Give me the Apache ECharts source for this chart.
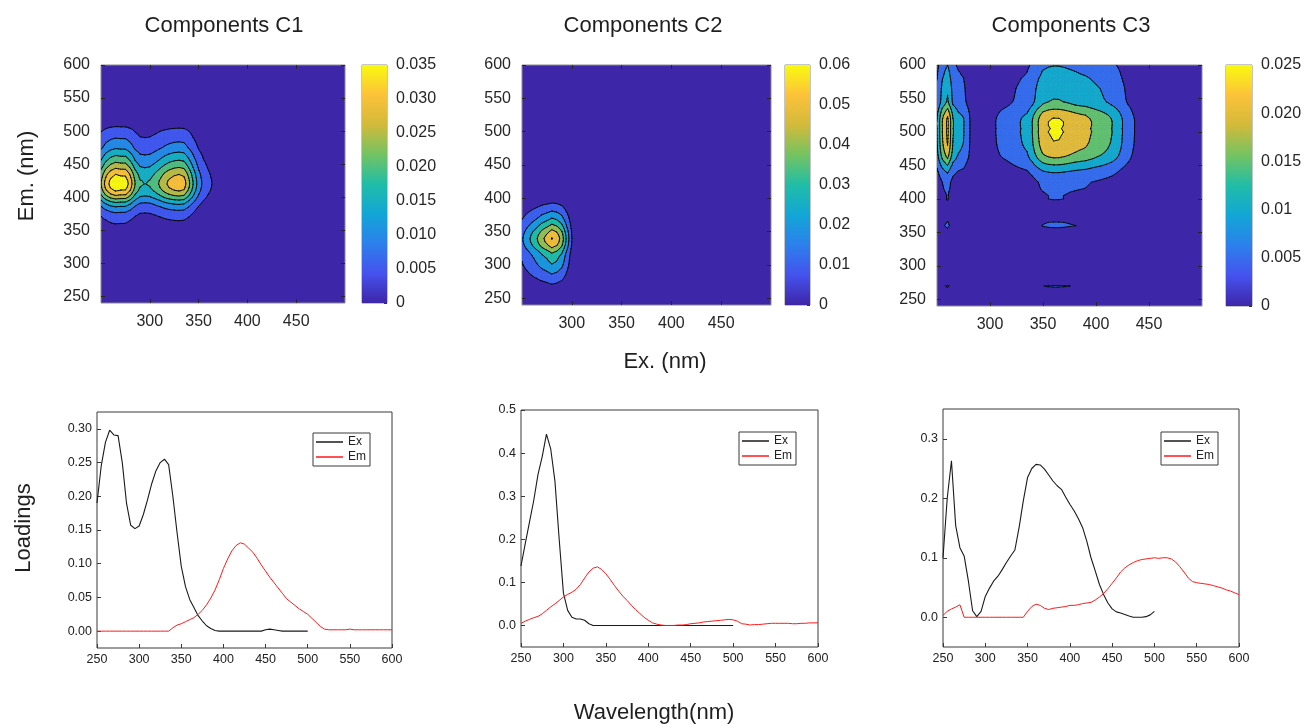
<!DOCTYPE html>
<html>
<head>
<meta charset="utf-8">
<title>PARAFAC components</title>
<script src="https://cdn.jsdelivr.net/npm/echarts@6/dist/echarts.min.js"></script>
<style>
  html, body { margin: 0; padding: 0; background: #ffffff; }
  #chart { width: 1305px; height: 724px; }
</style>
</head>
<body>
<div id="chart"></div>
<script>
// Wavelength sampling (nm)
const exWavelengths = [250,255,260,265,270,275,280,285,290,295,300,305,310,315,320,325,330,335,340,345,
  350,355,360,365,370,375,380,385,390,395,400,405,410,415,420,425,430,435,440,445,
  450,455,460,465,470,475,480,485,490,495,500];
const emWavelengths = [250,255,260,265,270,275,280,285,290,295,300,305,310,315,320,325,330,335,340,345,
  350,355,360,365,370,375,380,385,390,395,400,405,410,415,420,425,430,435,440,445,
  450,455,460,465,470,475,480,485,490,495,500,505,510,515,520,525,530,535,540,545,
  550,555,560,565,570,575,580,585,590,595,600];

// Component C1 loadings
const exC1 = [0.19,0.245,0.28,0.298,0.291,0.29,0.25,0.19,0.157,0.152,
  0.156,0.173,0.195,0.219,0.238,0.25,0.255,0.247,0.2,0.146,
  0.096,0.066,0.047,0.035,0.023,0.015,0.008,0.004,0.001,0,
  0,0,0,0,0,0,0,0,0,0,
  0.002,0.003,0.002,0.001,0,0,0,0,0,0,
  0];
const emC1 = [0,0,0,0,0,0,0,0,0,0,0,0,0,0,0,0,0,0,
  0.005,0.009,0.011,0.014,0.017,0.02,0.025,0.031,0.039,0.049,
  0.061,0.076,0.093,0.107,0.119,0.127,0.131,0.129,0.123,0.117,
  0.108,0.098,0.089,0.08,0.072,0.064,0.056,0.048,0.043,0.038,
  0.033,0.029,0.025,0.019,0.013,0.007,0.003,0.002,0.002,0.002,
  0.002,0.002,0.003,0.002,0.002,0.002,0.002,0.002,0.002,0.002,0.002,0.002,0.002];

// Component C2 loadings
const exC2 = [0.138,0.19,0.24,0.29,0.35,0.392,0.444,0.41,0.335,0.2,
  0.075,0.035,0.019,0.015,0.015,0.012,0.004,0,0,0,
  0,0,0,0,0,0,0,0,0,0,
  0,0,0,0,0,0,0,0,0,0,
  0,0,0,0,0,0,0,0,0,0,
  0];
const emC2 = [0.005,0.01,0.014,0.018,0.021,0.027,0.035,0.043,0.05,0.058,
  0.066,0.072,0.077,0.084,0.095,0.11,0.124,0.133,0.136,0.13,
  0.12,0.107,0.093,0.08,0.068,0.058,0.047,0.037,0.028,0.019,
  0.012,0.006,0.003,0.001,0,0,0,0.001,0.001,0.002,
  0.004,0.005,0.006,0.008,0.009,0.01,0.011,0.012,0.013,0.014,
  0.013,0.01,0.004,0.003,0.001,0.002,0.002,0.003,0.004,0.005,
  0.005,0.005,0.005,0.005,0.004,0.004,0.005,0.005,0.006,0.006,0.006];

// Component C3 loadings
const exC3 = [0.1,0.2,0.263,0.154,0.117,0.103,0.061,0.011,0.001,0.01,
  0.035,0.049,0.061,0.069,0.08,0.092,0.103,0.113,0.151,0.196,
  0.235,0.25,0.257,0.256,0.249,0.239,0.229,0.221,0.215,0.202,
  0.19,0.179,0.166,0.151,0.128,0.1,0.078,0.055,0.038,0.024,
  0.014,0.009,0.007,0.0045,0.002,0,0,0,0.001,0.004,
  0.01];
const emC3 = [0.003,0.01,0.014,0.017,0.021,0,0,0,0,0,
  0,0,0,0,0,0,0,0,0,0,
  0.01,0.018,0.022,0.02,0.015,0.013,0.015,0.016,0.017,0.018,
  0.02,0.02,0.021,0.023,0.024,0.025,0.029,0.034,0.04,0.048,
  0.057,0.066,0.076,0.083,0.088,0.092,0.095,0.097,0.098,0.099,
  0.1,0.099,0.1,0.1,0.098,0.093,0.085,0.076,0.066,0.06,
  0.058,0.057,0.056,0.055,0.053,0.051,0.049,0.046,0.044,0.041,0.038];

// Tick values and labels
const eemExTicks = [300,350,400,450];
const eemEmTicks = [250,300,350,400,450,500,550,600];
const wlTicks = [250,300,350,400,450,500,550,600];

const cbTicksC1 = [0,0.005,0.01,0.015,0.02,0.025,0.03,0.035];
const cbLabelsC1 = ['0','0.005','0.010','0.015','0.020','0.025','0.030','0.035'];
const cbTicksC2 = [0,0.01,0.02,0.03,0.04,0.05,0.06];
const cbLabelsC2 = ['0','0.01','0.02','0.03','0.04','0.05','0.06'];
const cbTicksC3 = [0,0.005,0.01,0.015,0.02,0.025];
const cbLabelsC3 = ['0','0.005','0.01','0.015','0.020','0.025'];

const loadTicksC1 = [0,0.05,0.1,0.15,0.2,0.25,0.3];
const loadLabelsC1 = ['0.00','0.05','0.10','0.15','0.20','0.25','0.30'];
const loadTicksC2 = [0,0.1,0.2,0.3,0.4,0.5];
const loadLabelsC2 = ['0.0','0.1','0.2','0.3','0.4','0.5'];
const loadTicksC3 = [0,0.1,0.2,0.3];
const loadLabelsC3 = ['0.0','0.1','0.2','0.3'];

const titles = ['Components C1','Components C2','Components C3'];
const seriesNames = ['Ex','Em'];

// ---------------------------------------------------------------
const FONT = '"Liberation Sans", Arial, Helvetica, sans-serif';
const TEXT = '#1f1f1f';

// parula-style colormap
const parulaStops = [
  [0.000, [62, 38, 168]],
  [0.125, [69, 82, 238]],
  [0.250, [44, 128, 236]],
  [0.375, [18, 166, 214]],
  [0.500, [32, 189, 167]],
  [0.625, [116, 195, 98]],
  [0.750, [210, 186, 58]],
  [0.875, [252, 194, 58]],
  [1.000, [249, 250, 16]]
];
function parula(t) {
  t = Math.max(0, Math.min(1, t));
  for (let k = 1; k < parulaStops.length; k++) {
    const [t1, c1] = parulaStops[k];
    const [t0, c0] = parulaStops[k - 1];
    if (t <= t1) {
      const f = (t - t0) / (t1 - t0);
      const c = c0.map((v, m) => Math.round(v + f * (c1[m] - v)));
      return 'rgb(' + c.join(',') + ')';
    }
  }
  return 'rgb(249,250,16)';
}

const components = [
  { ex: exC1, em: emC1, cbTicks: cbTicksC1, cbLabels: cbLabelsC1, vmax: 0.035,
    loadMin: -0.025, loadMax: 0.325, loadTicks: loadTicksC1, loadLabels: loadLabelsC1 },
  { ex: exC2, em: emC2, cbTicks: cbTicksC2, cbLabels: cbLabelsC2, vmax: 0.06,
    loadMin: -0.05, loadMax: 0.5, loadTicks: loadTicksC2, loadLabels: loadLabelsC2 },
  { ex: exC3, em: emC3, cbTicks: cbTicksC3, cbLabels: cbLabelsC3, vmax: 0.025,
    loadMin: -0.05, loadMax: 0.35, loadTicks: loadTicksC3, loadLabels: loadLabelsC3 }
];
components.forEach(c => {
  c.levels = c.cbTicks.slice(1);
  c.bandColors = [parula(0)].concat(c.levels.map(l => parula(l / c.vmax)));
});

// panel layout
const eemBoxes = [
  { left: 101, top: 65, width: 244, height: 238 },
  { left: 522, top: 65, width: 249, height: 240 },
  { left: 937, top: 65, width: 265, height: 241 }
];
const cbBoxes = [
  { left: 362, top: 65, width: 25, height: 238 },
  { left: 785, top: 65, width: 25, height: 240 },
  { left: 1226, top: 65, width: 26, height: 241 }
];
const loadBoxes = [
  { left: 97, top: 412, width: 295, height: 236 },
  { left: 521, top: 410, width: 297, height: 237 },
  { left: 943, top: 409, width: 296, height: 238 }
];
const legendBoxes = [
  { left: 313, top: 433 },
  { left: 739, top: 432 },
  { left: 1161, top: 432 }
];
const titleCenters = [224, 643, 1071];

function labelFor(ticks, labels) {
  return function (v) {
    const k = ticks.findIndex(t => Math.abs(t - v) < 1e-9);
    return k >= 0 ? labels[k] : '';
  };
}

// --- filled contour helpers ---------------------------------------
function bandOf(v, levels) {
  let b = 0;
  while (b < levels.length && v >= levels[b]) b++;
  return b;
}
function clipPoly(poly, level, keepAbove) {
  const out = [];
  const n = poly.length;
  for (let k = 0; k < n; k++) {
    const cur = poly[k], prev = poly[(k + n - 1) % n];
    const inCur = keepAbove ? cur.v >= level : cur.v <= level;
    const inPrev = keepAbove ? prev.v >= level : prev.v <= level;
    if (inCur !== inPrev) {
      const t = (level - prev.v) / (cur.v - prev.v);
      out.push({ x: prev.x + t * (cur.x - prev.x), y: prev.y + t * (cur.y - prev.y), v: level });
    }
    if (inCur) out.push(cur);
  }
  return out;
}
function cellTriangles(comp, api, i, j) {
  const corners = [[i, j], [i + 1, j], [i + 1, j + 1], [i, j + 1]].map(([a, b]) => {
    const p = api.coord([exWavelengths[a], emWavelengths[b]]);
    return { x: p[0], y: p[1], v: comp.ex[a] * comp.em[b] };
  });
  return [[corners[0], corners[1], corners[2]], [corners[0], corners[2], corners[3]]];
}
function fillRenderer(comp) {
  return function (params, api) {
    const i = api.value(2), j = api.value(3);
    const children = [];
    cellTriangles(comp, api, i, j).forEach(tri => {
      const vs = tri.map(p => p.v);
      const lo = bandOf(Math.min.apply(null, vs), comp.levels);
      const hi = bandOf(Math.max.apply(null, vs), comp.levels);
      for (let b = Math.max(lo, 1); b <= hi; b++) {
        let poly = tri;
        poly = clipPoly(poly, comp.levels[b - 1], true);
        if (b < comp.levels.length && poly.length >= 3) poly = clipPoly(poly, comp.levels[b], false);
        if (poly.length >= 3) {
          children.push({
            type: 'polygon',
            shape: { points: poly.map(p => [p.x, p.y]) },
            style: { fill: comp.bandColors[b], stroke: comp.bandColors[b], lineWidth: 0.6 }
          });
        }
      }
    });
    return { type: 'group', children: children };
  };
}
function lineRenderer(comp) {
  return function (params, api) {
    const i = api.value(2), j = api.value(3);
    const children = [];
    cellTriangles(comp, api, i, j).forEach(tri => {
      const vs = tri.map(p => p.v);
      const vmin = Math.min.apply(null, vs), vmax = Math.max.apply(null, vs);
      comp.levels.forEach(L => {
        if (!(vmin < L && vmax >= L)) return;
        const seg = [];
        for (let k = 0; k < 3; k++) {
          const a = tri[k], b = tri[(k + 1) % 3];
          if ((a.v >= L) !== (b.v >= L)) {
            const t = (L - a.v) / (b.v - a.v);
            seg.push([a.x + t * (b.x - a.x), a.y + t * (b.y - a.y)]);
          }
        }
        if (seg.length === 2) {
          children.push({
            type: 'line',
            shape: { x1: seg[0][0], y1: seg[0][1], x2: seg[1][0], y2: seg[1][1] },
            style: { stroke: '#000000', lineWidth: 0.9, lineCap: 'round' }
          });
        }
      });
    });
    return { type: 'group', children: children };
  };
}
// cell anchors: one per grid cell of the excitation/emission matrix
const cellData = [];
for (let i = 0; i < exWavelengths.length - 1; i++) {
  for (let j = 0; j < emWavelengths.length - 1; j++) {
    cellData.push([exWavelengths[i], emWavelengths[j], i, j]);
  }
}

const grids = [], xAxes = [], yAxes = [], series = [], legends = [], graphics = [];

components.forEach((comp, k) => {
  // --- EEM contour panel ---
  const gEem = grids.length;
  grids.push(Object.assign({ show: true, backgroundColor: comp.bandColors[0],
    borderColor: '#8c8c8c', borderWidth: 1 }, eemBoxes[k]));
  const xEem = xAxes.length;
  xAxes.push({
    gridIndex: gEem, type: 'value', min: 250, max: 500,
    axisLine: { show: false, onZero: false }, splitLine: { show: false },
    axisTick: { show: true, inside: true, length: 4, customValues: eemExTicks, lineStyle: { color: '#262626' } },
    axisLabel: { customValues: eemExTicks, fontSize: 16, color: '#262626', margin: 11, fontFamily: FONT }
  });
  xAxes.push({
    gridIndex: gEem, type: 'value', min: 250, max: 500, position: 'top',
    axisLine: { show: false, onZero: false }, splitLine: { show: false }, axisLabel: { show: false },
    axisTick: { show: true, inside: true, length: 4, customValues: eemExTicks, lineStyle: { color: '#262626' } }
  });
  const yEem = yAxes.length;
  yAxes.push({
    gridIndex: gEem, type: 'value', min: 240, max: 600,
    axisLine: { show: false, onZero: false }, splitLine: { show: false },
    axisTick: { show: true, inside: true, length: 4, customValues: eemEmTicks, lineStyle: { color: '#262626' } },
    axisLabel: { customValues: eemEmTicks, fontSize: 16, color: '#262626', margin: 11, fontFamily: FONT }
  });
  yAxes.push({
    gridIndex: gEem, type: 'value', min: 240, max: 600, position: 'right',
    axisLine: { show: false, onZero: false }, splitLine: { show: false }, axisLabel: { show: false },
    axisTick: { show: true, inside: true, length: 4, customValues: eemEmTicks, lineStyle: { color: '#262626' } }
  });
  series.push({
    type: 'custom', coordinateSystem: 'cartesian2d', xAxisIndex: xEem, yAxisIndex: yEem,
    data: cellData, encode: { x: 0, y: 1 }, renderItem: fillRenderer(comp),
    clip: true, silent: true, progressive: 0, z: 2
  });
  series.push({
    type: 'custom', coordinateSystem: 'cartesian2d', xAxisIndex: xEem, yAxisIndex: yEem,
    data: cellData, encode: { x: 0, y: 1 }, renderItem: lineRenderer(comp),
    clip: true, silent: true, progressive: 0, z: 3
  });

  // --- colorbar ---
  const gCb = grids.length;
  grids.push(Object.assign({ show: true, borderColor: '#8c8c8c', borderWidth: 1 }, cbBoxes[k]));
  const xCb = xAxes.length;
  xAxes.push({ gridIndex: gCb, type: 'value', min: 0, max: 1, show: false });
  const yCb = yAxes.length;
  yAxes.push({
    gridIndex: gCb, type: 'value', min: 0, max: comp.vmax, position: 'right',
    axisLine: { show: false, onZero: false }, splitLine: { show: false },
    axisTick: { show: true, inside: true, length: 3, customValues: comp.cbTicks, lineStyle: { color: '#333' } },
    axisLabel: { customValues: comp.cbTicks, formatter: labelFor(comp.cbTicks, comp.cbLabels),
      fontSize: 16, color: '#262626', margin: 9, fontFamily: FONT }
  });
  const gradStops = parulaStops.map(s => ({ offset: s[0], color: parula(s[0]) }));
  series.push({
    type: 'custom', coordinateSystem: 'cartesian2d', xAxisIndex: xCb, yAxisIndex: yCb,
    data: [[0, comp.vmax]], silent: true, z: 1,
    renderItem: function (params, api) {
      const p0 = api.coord([0, 0]);
      const p1 = api.coord([1, api.value(1)]);
      return {
        type: 'rect',
        shape: { x: p0[0], y: p1[1], width: p1[0] - p0[0], height: p0[1] - p1[1] },
        style: { fill: new echarts.graphic.LinearGradient(0, 1, 0, 0, gradStops) }
      };
    }
  });

  // --- loadings panel ---
  const gLoad = grids.length;
  grids.push(Object.assign({ show: true, borderColor: '#3a3a3a', borderWidth: 1 }, loadBoxes[k]));
  const xLoad = xAxes.length;
  xAxes.push({
    gridIndex: gLoad, type: 'value', min: 250, max: 600, interval: 50,
    axisLine: { show: false, onZero: false }, splitLine: { show: false },
    axisTick: { show: true, inside: true, length: 4, lineStyle: { color: '#3a3a3a' } },
    axisLabel: { customValues: wlTicks, fontSize: 12.5, color: '#222', margin: 5, fontFamily: FONT }
  });
  const yLoad = yAxes.length;
  yAxes.push({
    gridIndex: gLoad, type: 'value', min: comp.loadMin, max: comp.loadMax,
    axisLine: { show: false, onZero: false }, splitLine: { show: false },
    axisTick: { show: true, inside: true, length: 4, customValues: comp.loadTicks, lineStyle: { color: '#3a3a3a' } },
    axisLabel: { customValues: comp.loadTicks, formatter: labelFor(comp.loadTicks, comp.loadLabels),
      fontSize: 12.5, color: '#222', margin: 5, fontFamily: FONT }
  });
  series.push({
    name: seriesNames[0], type: 'line', xAxisIndex: xLoad, yAxisIndex: yLoad,
    data: comp.ex.map((v, i) => [exWavelengths[i], v]),
    symbol: 'none', showSymbol: false, clip: true, z: 4,
    lineStyle: { color: '#1a1a1a', width: 1.1 }, itemStyle: { color: '#1a1a1a' }
  });
  series.push({
    name: seriesNames[1], type: 'line', xAxisIndex: xLoad, yAxisIndex: yLoad,
    data: comp.em.map((v, i) => [emWavelengths[i], v]),
    symbol: 'none', showSymbol: false, clip: true, z: 4,
    lineStyle: { color: '#ff1a1a', width: 1 }, itemStyle: { color: '#ff1a1a' }
  });
  legends.push(Object.assign({
    data: seriesNames, orient: 'vertical', icon: 'rect', itemWidth: 27, itemHeight: 1.5, itemGap: 1,
    padding: [2, 4, 2, 3], borderColor: '#3a3a3a', borderWidth: 1, backgroundColor: '#fff',
    selectedMode: false, textStyle: { fontSize: 12, color: '#222', fontFamily: FONT, lineHeight: 14 }
  }, legendBoxes[k]));

  graphics.push({
    type: 'text', x: titleCenters[k], y: 26,
    style: { text: titles[k], font: '22px ' + FONT, fill: TEXT,
      textAlign: 'center', textVerticalAlign: 'middle', align: 'center', verticalAlign: 'middle' }
  });
});

function axisTitle(text, x, y, rotation) {
  return {
    type: 'text', x: x, y: y, rotation: rotation || 0,
    style: { text: text, font: '22px ' + FONT, fill: TEXT,
      textAlign: 'center', textVerticalAlign: 'middle', align: 'center', verticalAlign: 'middle' }
  };
}
graphics.push(axisTitle('Em. (nm)', 27, 176, Math.PI / 2));
graphics.push(axisTitle('Ex. (nm)', 665, 362));
graphics.push(axisTitle('Loadings', 24, 528, Math.PI / 2));
graphics.push(axisTitle('Wavelength(nm)', 654, 713));

const chart = echarts.init(document.getElementById('chart'), null, { renderer: 'canvas' });
chart.setOption({
  animation: false,
  backgroundColor: '#ffffff',
  textStyle: { fontFamily: FONT },
  grid: grids,
  xAxis: xAxes,
  yAxis: yAxes,
  legend: legends,
  series: series,
  graphic: { elements: graphics }
});
</script>
</body>
</html>
